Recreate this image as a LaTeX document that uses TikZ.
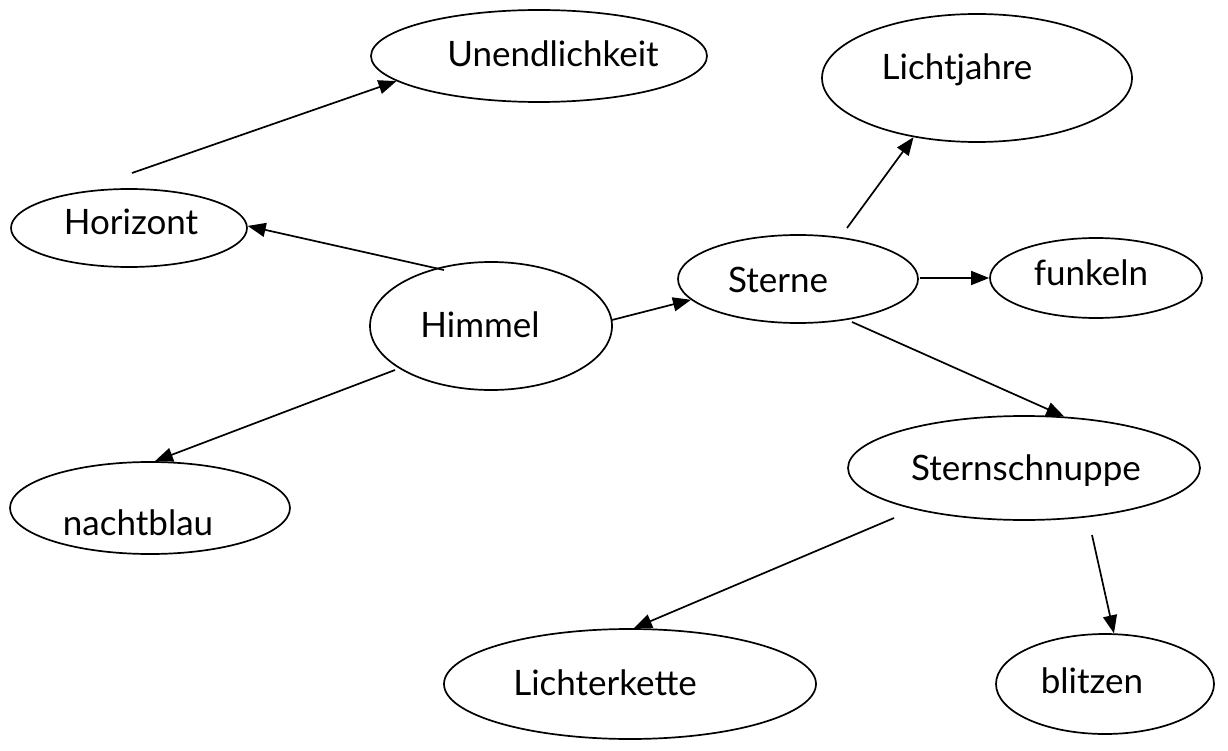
\documentclass[tikz,border=0pt]{standalone}
\usepackage{fontspec}
\setmainfont{Lato}
\usetikzlibrary{shapes.geometric,arrows.meta}
\begin{document}
\begin{tikzpicture}[x=1pt,y=-1pt,
  oval/.style={draw=black,line width=1.7pt,ellipse,inner sep=0pt},
  lbl/.style={anchor=base,inner sep=0pt,font=\fontsize{35}{40}\selectfont},
  conn/.style={line width=1.7pt,-{Triangle[length=18pt,width=14pt]}}]
\useasboundingbox (0,0) rectangle (1228,751);
% ellipses
\node[oval,minimum width=336pt,minimum height=92pt] (U) at (539,56) {};
\node[oval,minimum width=310pt,minimum height=128pt] (L) at (977,78) {};
\node[oval,minimum width=236pt,minimum height=78pt] (H) at (129,228) {};
\node[oval,minimum width=240pt,minimum height=88pt] (S) at (798,279) {};
\node[oval,minimum width=212pt,minimum height=80pt] (F) at (1096,278) {};
\node[oval,minimum width=242pt,minimum height=128pt] (Hi) at (491,326) {};
\node[oval,minimum width=280pt,minimum height=92pt] (N) at (150,508) {};
\node[oval,minimum width=352pt,minimum height=104pt] (SS) at (1024,468) {};
\node[oval,minimum width=372pt,minimum height=110pt] (LK) at (630,684) {};
\node[oval,minimum width=218pt,minimum height=100pt] (B) at (1105,684) {};
% texts
\node[lbl] (tU) at (553,67) {Unendlichkeit};
\node[lbl] (tL) at (957,80) {Lichtjahre};
\node[lbl] (tH) at (131,235) {Horizont};
\node[lbl] (tS) at (778,292) {Sterne};
\node[lbl] (tF) at (1091,285) {funkeln};
\node[lbl] (tHi) at (480,337) {Himmel};
\node[lbl] (tN) at (138,535) {nachtblau};
\node[lbl] (tSS) at (1026,480) {Sternschnuppe};
\node[lbl] (tLK) at (605,695) {Lichterkette};
\node[lbl] (tB) at (1092,693) {blitzen};
% free connector ends
\coordinate (s1) at (132,173);
\coordinate (s2) at (444,270);
\coordinate (s3) at (612,320);
\coordinate (s4) at (395,370);
\coordinate (s5) at (847,228);
\coordinate (s6) at (920,278);
\coordinate (s7) at (852,322);
\coordinate (s8) at (894,518);
\coordinate (s9) at (1092,535);
% connectors
\draw[conn] (s1) -- (U.190);
\draw[conn] (s2) -- (H.1);
\draw[conn] (s3) -- (S.191);
\draw[conn] (s4) -- (N.84);
\draw[conn] (s5) -- (L.223);
\draw[conn] (s6) -- (F.180);
\draw[conn] (s7) -- (SS.52);
\draw[conn] (s8) -- (LK.86);
\draw[conn] (s9) -- (B.80);
\end{tikzpicture}
\end{document}
